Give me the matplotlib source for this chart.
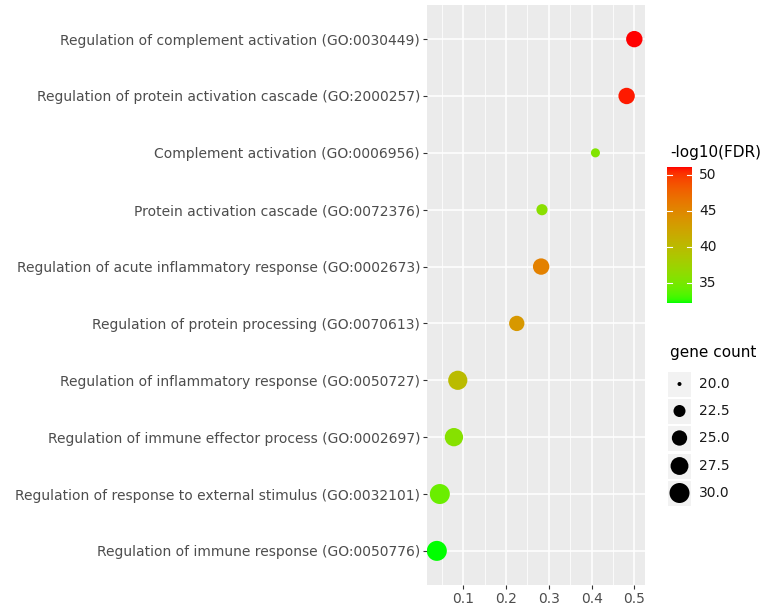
import numpy as np
import matplotlib
matplotlib.use("Agg")
import matplotlib.pyplot as plt
from matplotlib.colors import ListedColormap, Normalize

plt.rcParams['font.family'] = ['DejaVu Sans']

# GO enrichment results (top to bottom)
terms = [
    "Regulation of complement activation (GO:0030449)",
    "Regulation of protein activation cascade (GO:2000257)",
    "Complement activation (GO:0006956)",
    "Protein activation cascade (GO:0072376)",
    "Regulation of acute inflammatory response (GO:0002673)",
    "Regulation of protein processing (GO:0070613)",
    "Regulation of inflammatory response (GO:0050727)",
    "Regulation of immune effector process (GO:0002697)",
    "Regulation of response to external stimulus (GO:0032101)",
    "Regulation of immune response (GO:0050776)",
]
gene_ratio = [0.500, 0.482, 0.409, 0.284, 0.282, 0.225, 0.087, 0.078, 0.045, 0.038]
neg_log_fdr = [51.1, 50.8, 35.5, 36.0, 45.5, 43.5, 40.0, 35.8, 34.3, 32.2]
gene_count = [26, 26, 21, 22, 26, 25, 29, 28, 30, 30]

size_breaks = [20.0, 22.5, 25.0, 27.5, 30.0]
color_breaks = [35, 40, 45, 50]


# green -> red gradient interpolated in CIELAB, like ggplot's scale_colour_gradient
def srgb_to_lab(rgb):
    rgb = np.asarray(rgb, float)
    lin = np.where(rgb <= 0.04045, rgb / 12.92, ((rgb + 0.055) / 1.055) ** 2.4)
    m = np.array([[0.4124, 0.3576, 0.1805],
                  [0.2126, 0.7152, 0.0722],
                  [0.0193, 0.1192, 0.9505]])
    xyz = m @ lin / np.array([0.95047, 1.0, 1.08883])
    f = np.where(xyz > 0.008856, np.cbrt(xyz), 7.787 * xyz + 16 / 116)
    return np.array([116 * f[1] - 16, 500 * (f[0] - f[1]), 200 * (f[1] - f[2])])


def lab_to_srgb(lab):
    L, a, b = lab
    fy = (L + 16) / 116
    fx = fy + a / 500
    fz = fy - b / 200
    f = np.array([fx, fy, fz])
    xyz = np.where(f ** 3 > 0.008856, f ** 3, (f - 16 / 116) / 7.787)
    xyz = xyz * np.array([0.95047, 1.0, 1.08883])
    minv = np.array([[3.2406, -1.5372, -0.4986],
                     [-0.9689, 1.8758, 0.0415],
                     [0.0557, -0.2040, 1.0570]])
    lin = minv @ xyz
    lin = np.clip(lin, 0, 1)
    rgb = np.where(lin <= 0.0031308, 12.92 * lin, 1.055 * lin ** (1 / 2.4) - 0.055)
    return np.clip(rgb, 0, 1)


lab_lo = srgb_to_lab([0, 1, 0])
lab_hi = srgb_to_lab([1, 0, 0])
cmap = ListedColormap([lab_to_srgb(lab_lo + t * (lab_hi - lab_lo))
                       for t in np.linspace(0, 1, 256)])
norm = Normalize(vmin=min(neg_log_fdr), vmax=max(neg_log_fdr))


def point_diam(v):
    # point diameter in pixels, area-scaled between 20 and 30 genes
    v = np.asarray(v, float)
    return 4 + 16 * np.sqrt(np.clip((v - 20) / 10, 0, 1))


def px_to_s(d):
    return (np.asarray(d) * 0.72) ** 2


W, H = 764, 610
fig = plt.figure(figsize=(W / 100, H / 100), dpi=100)
ax = fig.add_axes([427 / W, 1 - 585 / H, (645 - 427) / W, (585 - 5) / H])
ax.set_facecolor("#EBEBEB")
for s in ax.spines.values():
    s.set_visible(False)

n = len(terms)
ypos = np.arange(n)[::-1] + 1
ax.set_xlim(0.015, 0.525)
ax.set_ylim(0.4, n + 0.6)

ax.set_xticks([0.1, 0.2, 0.3, 0.4, 0.5])
ax.set_xticks([0.05, 0.15, 0.25, 0.35, 0.45], minor=True)
ax.set_xticklabels(["0.1", "0.2", "0.3", "0.4", "0.5"])
ax.set_yticks(ypos)
ax.set_yticklabels(terms)
ax.grid(which="major", color="white", linewidth=1.1)
ax.grid(which="minor", axis="x", color="white", linewidth=0.55)
ax.set_axisbelow(True)
ax.tick_params(which="major", length=3, width=0.8, color="#333333",
               labelcolor="#4D4D4D", labelsize=10, pad=2)
ax.tick_params(which="minor", length=0)

ax.scatter(gene_ratio, ypos, s=px_to_s(point_diam(gene_count)),
           c=cmap(norm(neg_log_fdr)), edgecolors="none", zorder=3)

# colour bar legend
fig.text(670 / W, 1 - 153 / H, "-log10(FDR)", fontsize=11, color="black",
         va="center", ha="left")
cax = fig.add_axes([667 / W, 1 - 303 / H, 25 / W, (303 - 167) / H])
grad = np.linspace(norm.vmin, norm.vmax, 256).reshape(-1, 1)
cax.imshow(grad, aspect="auto", cmap=cmap, norm=norm, origin="lower",
           extent=[0, 1, norm.vmin, norm.vmax])
cax.set_xlim(0, 1)
cax.set_ylim(norm.vmin, norm.vmax)
cax.set_xticks([])
cax.set_yticks([])
for s in cax.spines.values():
    s.set_visible(False)
for v in color_breaks:
    cax.plot([0, 0.2], [v, v], color="white", lw=0.8)
    cax.plot([0.8, 1], [v, v], color="white", lw=0.8)
    cax.text(1.28, v, str(v), transform=cax.get_yaxis_transform(),
             fontsize=10, color="#1A1A1A", va="center", ha="left")

# gene count legend, drawn in pixel coordinates
lax = fig.add_axes([0, 0, 1, 1], facecolor="none")
lax.set_xlim(0, W)
lax.set_ylim(H, 0)
lax.axis("off")
lax.text(670, 353, "gene count", fontsize=11, color="black", va="center", ha="left")
key_y = [384, 411, 438, 466, 493]
for v, yk in zip(size_breaks, key_y):
    lax.add_patch(plt.Rectangle((668, yk - 12.5), 23, 25.5, color="#F2F2F2", lw=0))
    lax.scatter([679.5], [yk], s=px_to_s(point_diam(v)), color="black", edgecolors="none")
    lax.text(699, yk, f"{v:.1f}", fontsize=10, color="#1A1A1A", va="center", ha="left")

fig.savefig("out.png", dpi=100)
